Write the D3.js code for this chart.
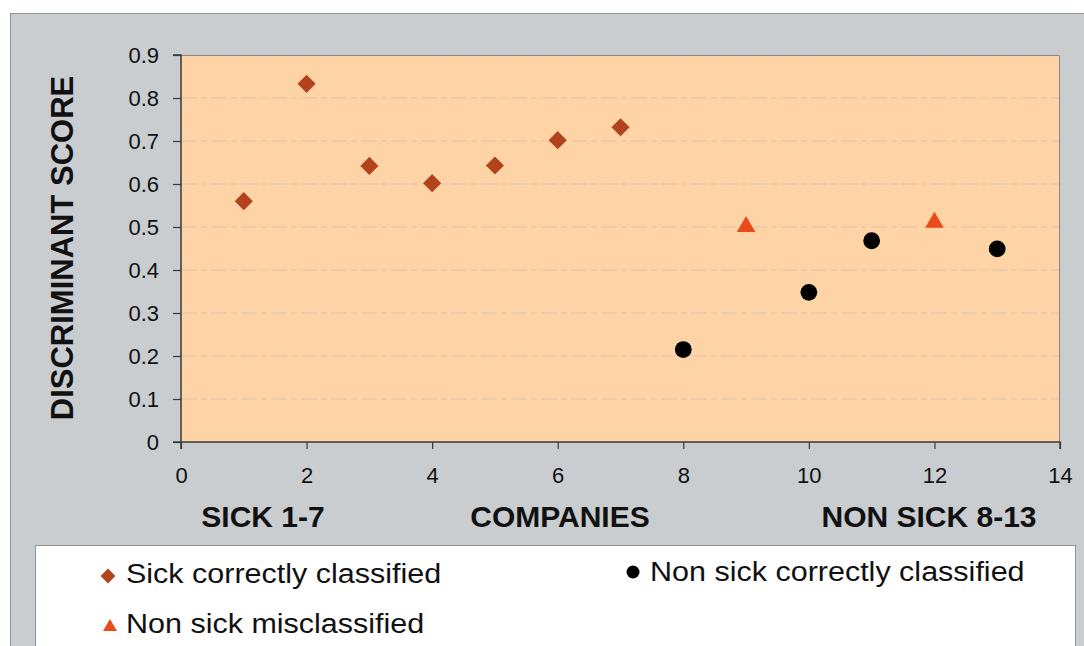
<!DOCTYPE html>
<html>
<head>
<meta charset="utf-8">
<script src="https://cdn.jsdelivr.net/npm/d3@7"></script>
<style>
  html, body { margin: 0; padding: 0; background: #ffffff; }
  svg { display: block; font-family: Arial, "Liberation Sans", sans-serif; }
</style>
</head>
<body>
<svg id="chart" width="1084" height="646"></svg>
<script>
// Discriminant scores per company
const sickCompany = [1, 2, 3, 4, 5, 6, 7];
const sickScore = [0.56, 0.833, 0.642, 0.602, 0.643, 0.702, 0.732];

const nonSickMisCompany = [9, 12];
const nonSickMisScore = [0.503, 0.513];

const nonSickOkCompany = [8, 10, 11, 13];
const nonSickOkScore = [0.215, 0.348, 0.468, 0.449];

const xTicks = [0, 2, 4, 6, 8, 10, 12, 14];
const yTicks = [0, 0.1, 0.2, 0.3, 0.4, 0.5, 0.6, 0.7, 0.8, 0.9];

const legendLabels = ["Sick correctly classified", "Non sick correctly classified", "Non sick misclassified"];

const svg = d3.select("#chart");

const plot = { left: 181, right: 1060, top: 55, bottom: 442 };

const x = d3.scaleLinear().domain([0, 14]).range([plot.left, plot.right]);
const y = d3.scaleLinear().domain([0, 0.9]).range([plot.bottom, plot.top]);

// Outer chart panel
svg.append("rect")
  .attr("x", 10.5).attr("y", 13.5)
  .attr("width", 1090).attr("height", 650)
  .attr("fill", "#c9cdd0")
  .attr("stroke", "#8f9496").attr("stroke-width", 1);

// Plot area
svg.append("rect")
  .attr("x", plot.left).attr("y", plot.top)
  .attr("width", plot.right - plot.left).attr("height", plot.bottom - plot.top)
  .attr("fill", "#fed4a7");

// Horizontal gridlines
svg.append("g")
  .selectAll("line")
  .data(yTicks.slice(1))
  .join("line")
  .attr("x1", plot.left).attr("x2", plot.right)
  .attr("y1", d => y(d)).attr("y2", d => y(d))
  .attr("stroke", "#c9bba9")
  .attr("stroke-width", 1)
  .attr("stroke-dasharray", "16,4,6,4")
  .attr("opacity", 0.6);

// Plot border (right and top edges)
svg.append("path")
  .attr("d", `M${plot.left},${plot.top + 0.5}H${plot.right - 0.5}V${plot.bottom}`)
  .attr("fill", "none")
  .attr("stroke", "#8a8a84").attr("stroke-width", 1);

// Axes
const yAxis = d3.axisLeft(y).tickValues(yTicks).tickSize(8).tickPadding(14)
  .tickFormat(d => d === 0 ? "0" : d3.format(".1f")(d));
const xAxis = d3.axisBottom(x).tickValues(xTicks).tickSize(7).tickPadding(18)
  .tickFormat(d3.format("d"));

const gy = svg.append("g").attr("transform", `translate(${plot.left},0)`).call(yAxis);
const gx = svg.append("g").attr("transform", `translate(0,${plot.bottom})`).call(xAxis);

[gx, gy].forEach(g => {
  g.select(".domain").attr("stroke", "#3a3a36").attr("stroke-width", 1.5);
  g.selectAll(".tick line").attr("stroke", "#3a3a36").attr("stroke-width", 1.2);
  g.selectAll(".tick text")
    .attr("fill", "#111")
    .style("font-size", "22px")
    .style("font-family", "Arial, 'Liberation Sans', sans-serif");
});
gy.select(".domain").attr("d", `M-8,${plot.bottom}H0V${plot.top}H-8`);
gx.select(".domain").attr("d", `M${plot.left},7V0H${plot.right}V7`);

// Axis titles
svg.append("text")
  .attr("transform", `translate(73,${(74 + 422) / 2}) rotate(-90)`)
  .attr("text-anchor", "middle")
  .style("font-size", "31px").style("font-weight", "bold")
  .attr("fill", "#111")
  .text("DISCRIMINANT SCORE");

const xTitles = [
  { t: "SICK 1-7", cx: 263 },
  { t: "COMPANIES", cx: 560 },
  { t: "NON SICK 8-13", cx: 929 }
];
svg.append("g").selectAll("text")
  .data(xTitles)
  .join("text")
  .attr("x", d => d.cx).attr("y", 527)
  .attr("text-anchor", "middle")
  .style("font-size", "30px").style("font-weight", "bold")
  .attr("fill", "#111")
  .text(d => d.t);

// Markers
const diamond = d3.symbol().type(d3.symbolSquare).size(165);
const triangle = d3.symbol().type(d3.symbolTriangle).size(150);

const sickColor = "#b3431c";
const misColor = "#ea4a1c";

svg.append("g").selectAll("path")
  .data(sickCompany.map((c, i) => [c, sickScore[i]]))
  .join("path")
  .attr("d", diamond)
  .attr("transform", d => `translate(${x(d[0])},${y(d[1])}) rotate(45)`)
  .attr("fill", sickColor);

svg.append("g").selectAll("path")
  .data(nonSickMisCompany.map((c, i) => [c, nonSickMisScore[i]]))
  .join("path")
  .attr("d", triangle)
  .attr("transform", d => `translate(${x(d[0])},${y(d[1]) + 1})`)
  .attr("fill", misColor);

svg.append("g").selectAll("circle")
  .data(nonSickOkCompany.map((c, i) => [c, nonSickOkScore[i]]))
  .join("circle")
  .attr("cx", d => x(d[0])).attr("cy", d => y(d[1]))
  .attr("r", 8.4)
  .attr("fill", "#000");

// Legend
svg.append("rect")
  .attr("x", 35.5).attr("y", 545.5)
  .attr("width", 1040).attr("height", 120)
  .attr("fill", "#ffffff")
  .attr("stroke", "#8f9496").attr("stroke-width", 1);

const legendItems = [
  { label: legendLabels[0], mx: 108, my: 576, tx: 126, ty: 583, kind: "diamond" },
  { label: legendLabels[1], mx: 633, my: 572, tx: 650, ty: 581, kind: "circle" },
  { label: legendLabels[2], mx: 110, my: 627, tx: 126, ty: 633, kind: "triangle" }
];

const lg = svg.append("g").selectAll("g")
  .data(legendItems)
  .join("g");

lg.each(function(d) {
  const g = d3.select(this);
  if (d.kind === "diamond") {
    g.append("path")
      .attr("d", d3.symbol().type(d3.symbolSquare).size(110))
      .attr("transform", `translate(${d.mx},${d.my}) rotate(45)`)
      .attr("fill", sickColor);
  } else if (d.kind === "circle") {
    g.append("circle").attr("cx", d.mx).attr("cy", d.my).attr("r", 6.5).attr("fill", "#000");
  } else {
    g.append("path")
      .attr("d", d3.symbol().type(d3.symbolTriangle).size(85))
      .attr("transform", `translate(${d.mx},${d.my})`)
      .attr("fill", misColor);
  }
  g.append("text")
    .attr("transform", `translate(${d.tx},${d.ty}) scale(1.09,1)`)
    .style("font-size", "28px")
    .attr("fill", "#111")
    .text(d.label);
});
</script>
</body>
</html>
